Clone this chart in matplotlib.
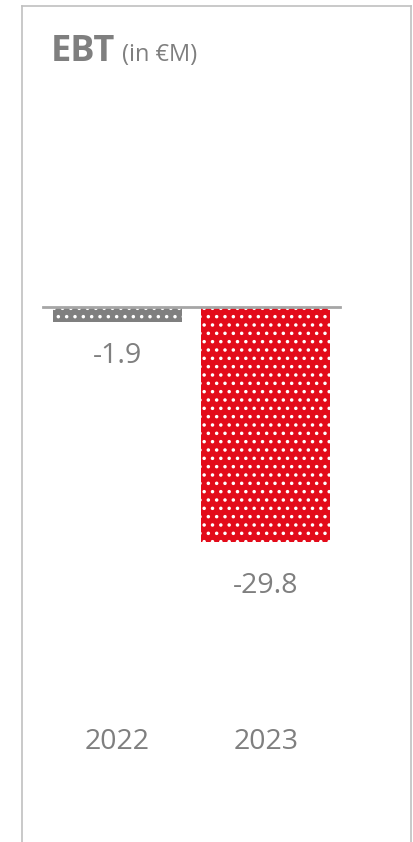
import matplotlib
matplotlib.use("Agg")
import matplotlib.pyplot as plt
from matplotlib.lines import Line2D
from matplotlib.transforms import blended_transform_factory

# EBT per year, in millions of euros
years = ["2022", "2023"]
ebt = [-1.9, -29.8]
bar_colors = ["#7f7f7f", "#e30b1a"]

text_color = "#7f7f7f"
plt.rcParams["font.family"] = ["Open Sans", "DejaVu Sans"]
plt.rcParams["hatch.linewidth"] = 1.3

W, H = 413, 842
fig = plt.figure(figsize=(W / 100, H / 100), dpi=100)

# bar area: from the zero line (y=307 px) down to the lowest bar
ax = fig.add_axes([43 / W, (H - 542) / H, 297 / W, 235 / H])
x = range(len(years))
bars = ax.bar(x, ebt, width=0.87, color=bar_colors, edgecolor="white",
              linewidth=0, hatch="..")
ax.set_xlim(-0.5, 1.5)
ax.set_ylim(min(ebt), 0)
ax.axhline(0, color="#a6a6a6", lw=2, clip_on=False)
ax.axis("off")

# value labels under each bar
label_pad = [34, 44]
for xi, v, pad in zip(x, ebt, label_pad):
    ax.annotate(f"{v:.1f}", (xi, v), xytext=(0, -pad * 0.72),
                textcoords="offset points", ha="center", va="center",
                fontsize=20.5, color=text_color)

# year labels
trans = blended_transform_factory(ax.transData, fig.transFigure)
for xi, yr in zip(x, years):
    ax.text(xi, 1 - 742 / H, yr, transform=trans, ha="center", va="center",
            fontsize=20.5, color=text_color, clip_on=False)

# title
t = fig.text(51 / W, 1 - 61 / H, "EBT", fontsize=26, fontweight="bold",
             color=text_color, va="baseline")
bb = t.get_window_extent(renderer=fig.canvas.get_renderer())
fig.text((bb.x1 + 7) / W, 1 - 61 / H, "(in €M)", fontsize=17,
         color=text_color, va="baseline")

# panel frame (open at the bottom)
frame = "#c0c0c0"
fig.add_artist(Line2D([22 / W, 22 / W], [0, 1 - 6 / H], color=frame, lw=1.2,
                      transform=fig.transFigure))
fig.add_artist(Line2D([22 / W, 411 / W], [1 - 6 / H, 1 - 6 / H], color=frame,
                      lw=1.2, transform=fig.transFigure))
fig.add_artist(Line2D([411 / W, 411 / W], [0, 1 - 6 / H], color=frame, lw=1.2,
                      transform=fig.transFigure))

fig.savefig("out.png", dpi=100)
